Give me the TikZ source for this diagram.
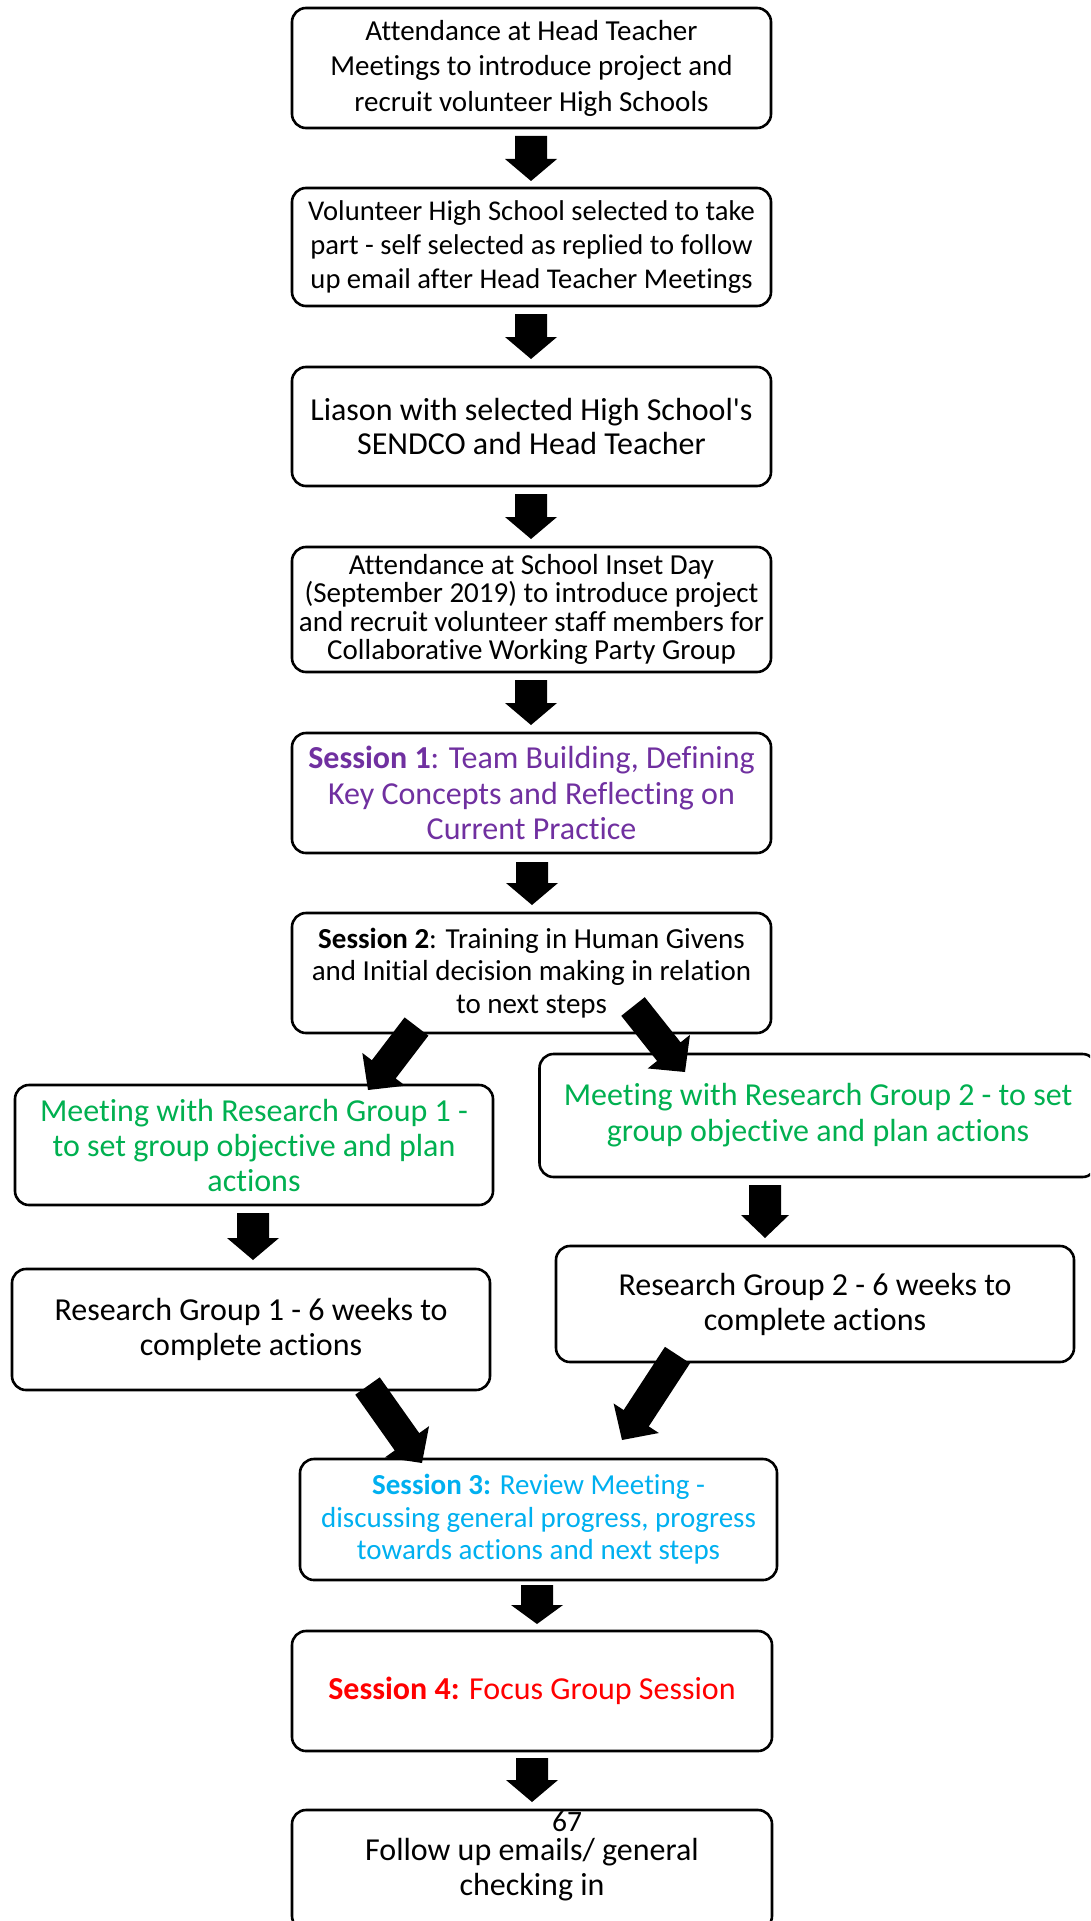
\documentclass[tikz,border=0pt]{standalone}
\usepackage{fontspec}
\setmainfont{Carlito}[Ligatures={TeX,NoCommon,NoContextual,NoRare},RawFeature={-liga;-clig;-calt;-dlig}]
\usetikzlibrary{calc}
\definecolor{spurple}{HTML}{7030A0}
\definecolor{sgreen}{HTML}{00B050}
\definecolor{sblue}{HTML}{00B0F0}
\definecolor{sred}{HTML}{FF0000}
% #1 tail, #2 tip, #3 half shaft width, #4 half head width, #5 head length
\newcommand\blockarrow[5]{%
  \coordinate (tmpbase) at ($(#2)!#5!(#1)$);
  \fill[black] ($(#1)!#3!90:(#2)$) -- ($(tmpbase)!#3!90:(#2)$) -- ($(tmpbase)!#4!90:(#2)$)
    -- (#2) -- ($(tmpbase)!#4!-90:(#2)$) -- ($(tmpbase)!#3!-90:(#2)$) -- ($(#1)!#3!-90:(#2)$) -- cycle;
}
\begin{document}
\begin{tikzpicture}[x=1pt,y=-1pt,
  box/.style={draw=black, line width=2.6pt, rounded corners=14pt, fill=white,
    inner sep=0pt, align=center},
  fa/.style={font=\fontsize{29}{35.5}\selectfont},
  fb/.style={font=\fontsize{32}{35}\selectfont},
  fc/.style={font=\fontsize{29}{32.5}\selectfont}]
\useasboundingbox (0,0) rectangle (1090,1921);
\clip (0,0) rectangle (1090,1921);
\fill[white] (0,0) rectangle (1090,1921);

\node[box, fa, minimum width=479pt, minimum height=120pt] (b1) at (531.5,68)
  {Attendance at Head Teacher\\Meetings to introduce project and\\recruit volunteer High Schools};
\node[box, font=\fontsize{28.6}{34}\selectfont, minimum width=479pt, minimum height=118pt] (b2) at (531.5,247)
  {Volunteer High School selected to take\\part - self selected as replied to follow\\up email after Head Teacher Meetings};
\node[box, font=\fontsize{32}{34.3}\selectfont, minimum width=479pt, minimum height=119pt] (b3) at (531.5,426.5)
  {Liason with selected High School\textquotesingle s\\SENDCO and Head Teacher};
\node[box, font=\fontsize{29}{28.6}\selectfont, minimum width=479pt, minimum height=125pt] (b4) at (531.5,609.5)
  {Attendance at School Inset Day\\(September 2019) to introduce project\\and recruit volunteer staff members for\\Collaborative Working Party Group};
\node[box, font=\fontsize{32}{35.5}\selectfont, text=spurple, minimum width=479pt, minimum height=120pt] (b5) at (531.5,793)
  {\textbf{Session 1}: Team Building, Defining\\Key Concepts and Reflecting on\\Current Practice};
\node[box, fc, minimum width=479pt, minimum height=120pt] (b6) at (531.5,973)
  {\textbf{Session 2}: Training in Human Givens\\and Initial decision making in relation\\to next steps};
\node[box, fb, text=sgreen, minimum width=478pt, minimum height=120pt] (b7) at (254,1145)
  {Meeting with Research Group 1 -\\to set group objective and plan\\actions};
\node[box, font=\fontsize{32}{36}\selectfont, text=sgreen, minimum width=557pt, minimum height=123pt] (b8) at (818,1115.5)
  {Meeting with Research Group 2 - to set\\group objective and plan actions};
\node[box, fb, minimum width=478pt, minimum height=121pt] (b9) at (251,1329.5)
  {Research Group 1 - 6 weeks to\\complete actions};
\node[box, fb, minimum width=518pt, minimum height=116pt] (b10) at (815,1304)
  {Research Group 2 - 6 weeks to\\complete actions};
\node[box, fc, text=sblue, minimum width=477pt, minimum height=121pt] (b11) at (538.5,1519.5)
  {\textbf{Session 3:} Review Meeting -\\discussing general progress, progress\\towards actions and next steps};
\node[box, fb, text=sred, minimum width=480pt, minimum height=120pt] (b12) at (532,1691)
  {\textbf{Session 4:} Focus Group Session};
\node[box, fb, minimum width=480pt, minimum height=120pt] (b13) at (532,1870)
  {Follow up emails/ general\\checking in};
\node[font=\fontsize{29.5}{30}\selectfont, inner sep=0pt] (pg) at (567,1822) {67};

% arrow end points
\coordinate (a1s) at (531,136);  \coordinate (a1e) at (531,181);
\coordinate (a2s) at (531,314);  \coordinate (a2e) at (531,359);
\coordinate (a3s) at (531,494);  \coordinate (a3e) at (531,539);
\coordinate (a4s) at (531,680);  \coordinate (a4e) at (531,725);
\coordinate (a5s) at (532,862);  \coordinate (a5e) at (532,905);
\coordinate (a7s) at (253,1213); \coordinate (a7e) at (253,1260);
\coordinate (a8s) at (765,1185); \coordinate (a8e) at (765,1238);
\coordinate (a11s) at (537,1585); \coordinate (a11e) at (537,1624);
\coordinate (a12s) at (532,1758); \coordinate (a12e) at (532,1802);
\coordinate (d1s) at (416.5,1026.5); \coordinate (d1e) at (368,1090);
\coordinate (d2s) at (633,1006.5);   \coordinate (d2e) at (685,1072);
\coordinate (d3s) at (367.5,1386);   \coordinate (d3e) at (422,1463);
\coordinate (d4s) at (677.5,1355);   \coordinate (d4e) at (622,1440);

\blockarrow{a1s}{a1e}{16pt}{26pt}{22pt}
\blockarrow{a2s}{a2e}{16pt}{26pt}{22pt}
\blockarrow{a3s}{a3e}{16pt}{26pt}{22pt}
\blockarrow{a4s}{a4e}{16pt}{26pt}{22pt}
\blockarrow{a5s}{a5e}{16pt}{26pt}{22pt}
\blockarrow{a7s}{a7e}{16pt}{26pt}{22pt}
\blockarrow{a8s}{a8e}{16pt}{24pt}{23pt}
\blockarrow{a11s}{a11e}{16pt}{26pt}{19pt}
\blockarrow{a12s}{a12e}{16pt}{26pt}{22pt}
\blockarrow{d1s}{d1e}{15pt}{27pt}{26pt}
\blockarrow{d2s}{d2e}{15pt}{27pt}{26pt}
\blockarrow{d3s}{d3e}{15pt}{27pt}{26pt}
\blockarrow{d4s}{d4e}{15pt}{27pt}{26pt}
\end{tikzpicture}
\end{document}
